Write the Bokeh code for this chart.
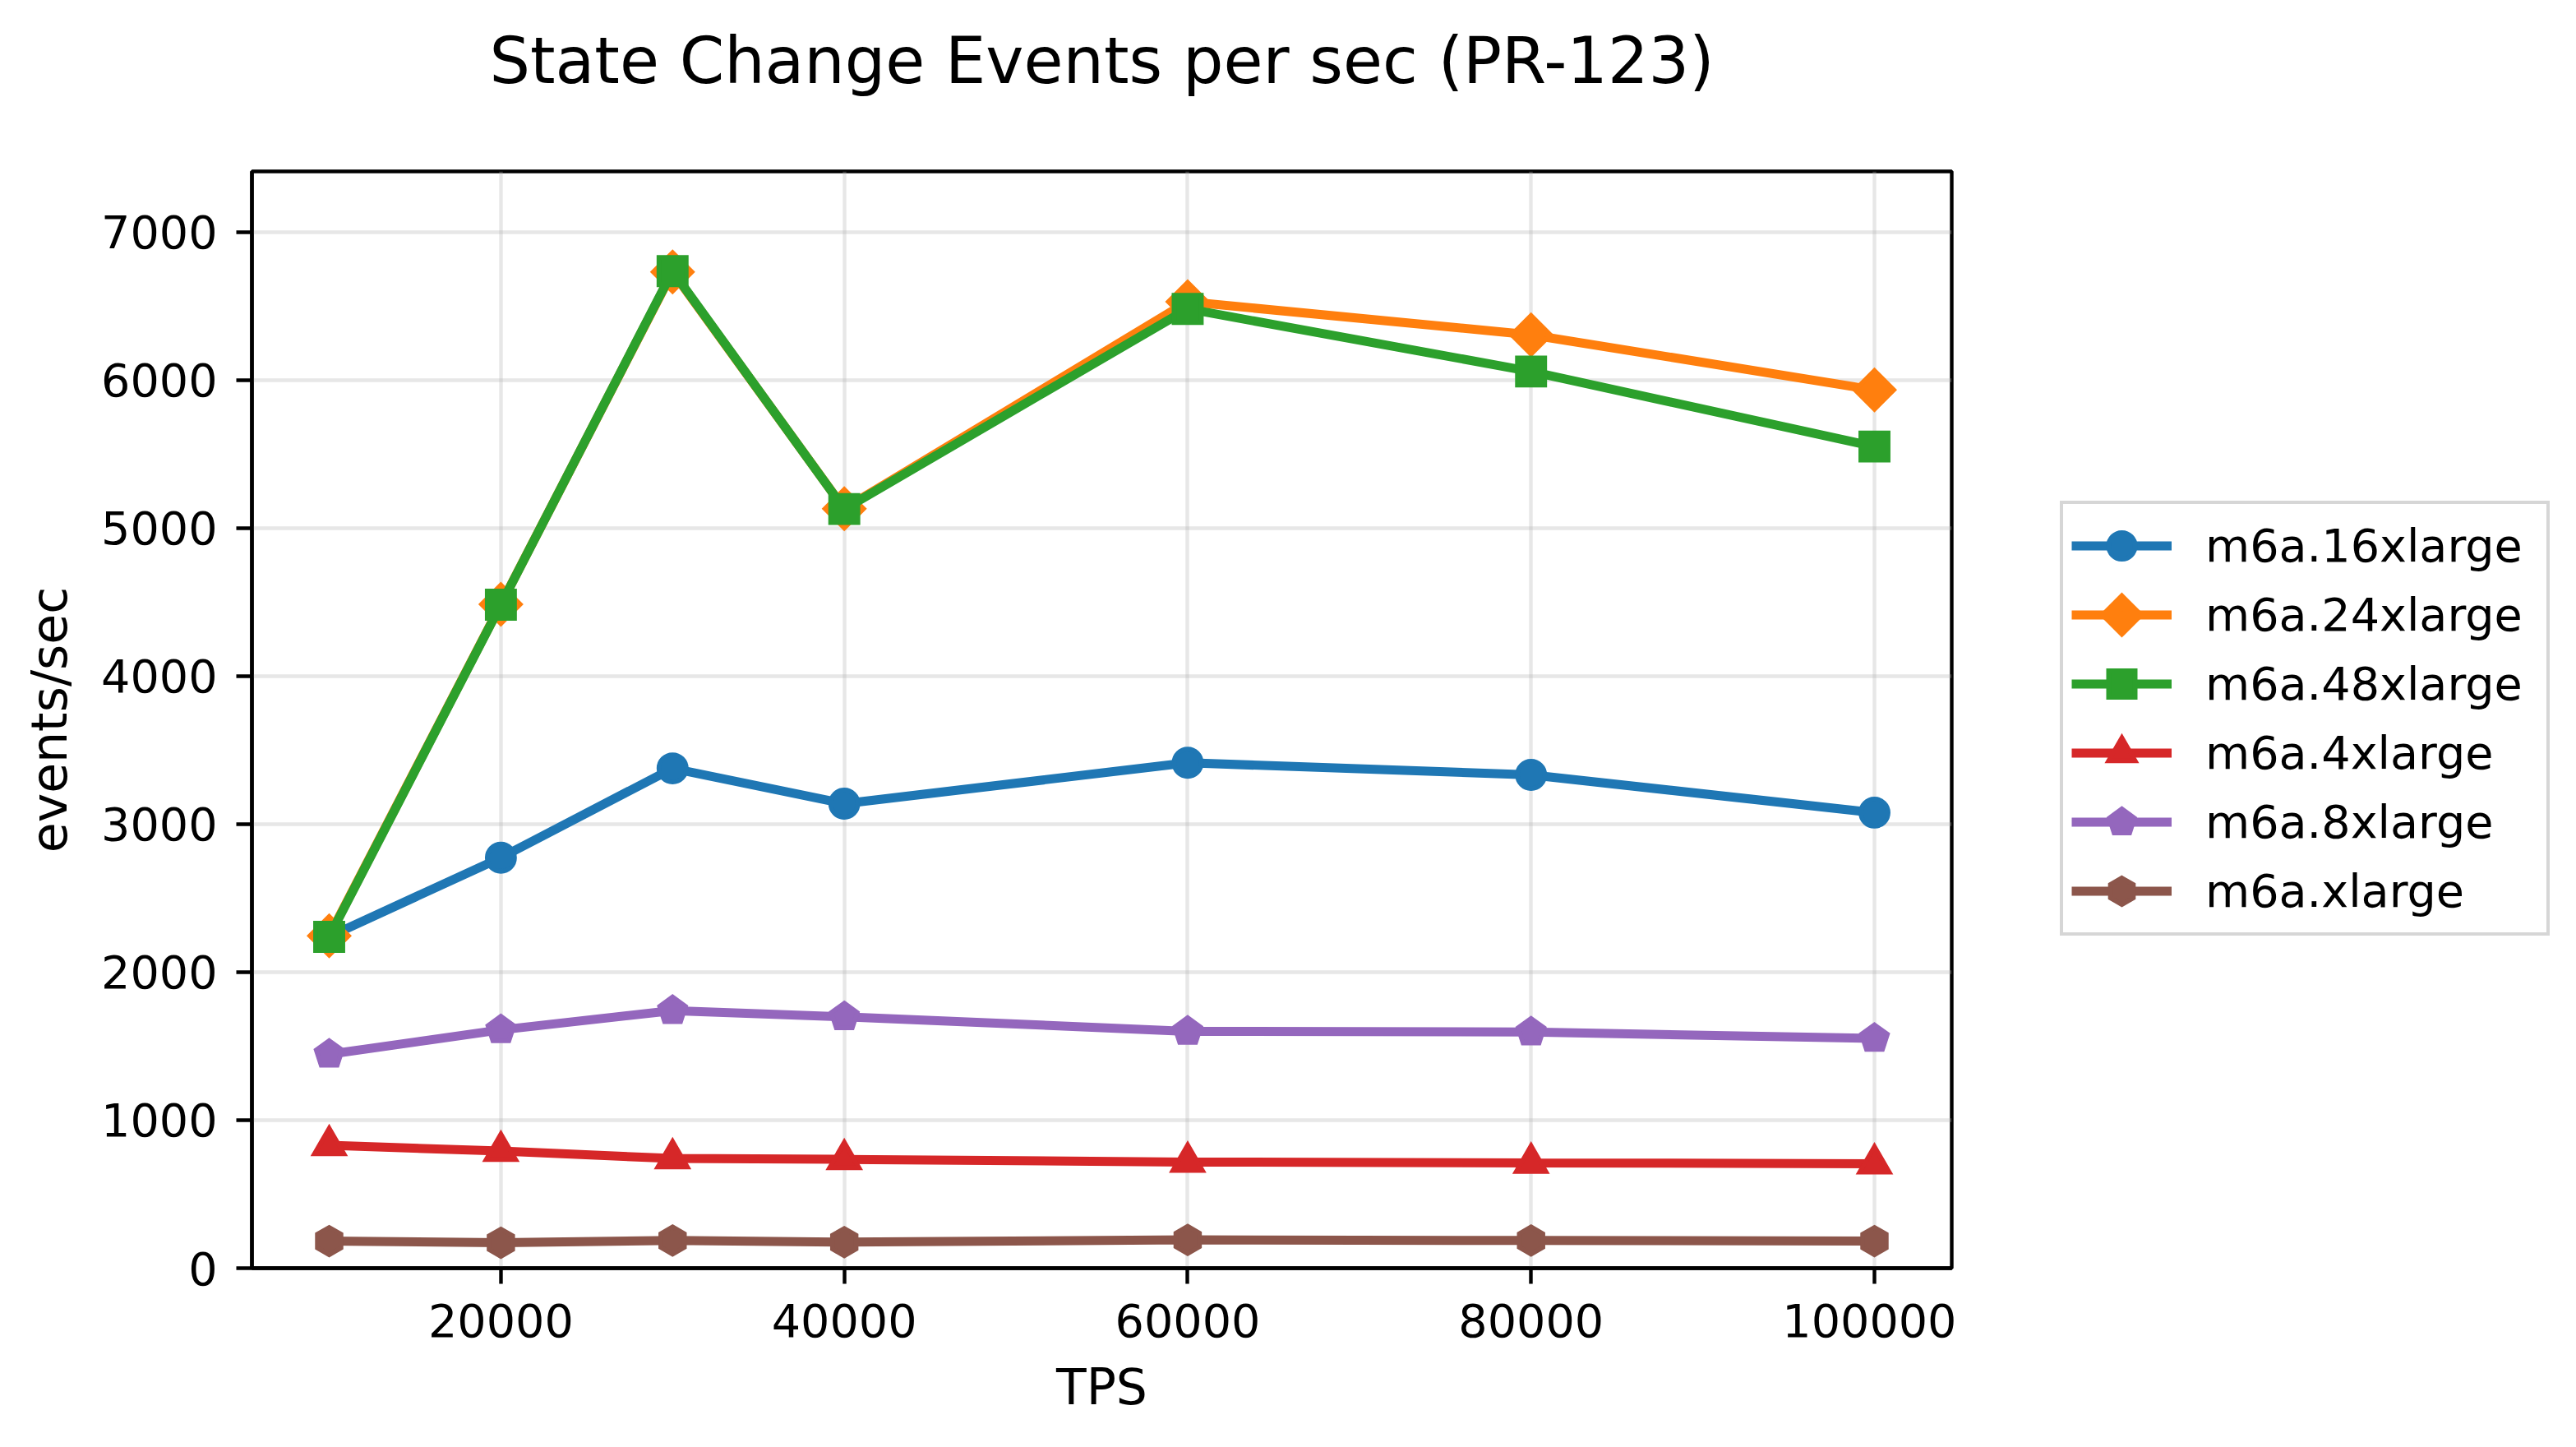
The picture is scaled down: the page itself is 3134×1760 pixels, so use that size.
import numpy as np
from bokeh.plotting import figure
from bokeh.layouts import row
from bokeh.models import (Range1d, FixedTicker, BasicTickFormatter, Legend, LegendItem)
from bokeh.embed import file_html
from bokeh.resources import INLINE

# Throughput levels tested (transactions per second)
tps = [10000, 20000, 30000, 40000, 60000, 80000, 100000]

# State change events per second, by instance type
m6a_16xlarge = [2240, 2773, 3376, 3138, 3414, 3332, 3077]
m6a_24xlarge = [2245, 4485, 6730, 5130, 6528, 6305, 5932]
m6a_48xlarge = [2238, 4482, 6735, 5128, 6480, 6057, 5550]
m6a_4xlarge = [830, 791, 741, 735, 717, 711, 706]
m6a_8xlarge = [1445, 1610, 1740, 1698, 1600, 1595, 1552]
m6a_xlarge = [183, 172, 187, 176, 191, 187, 183]

series_names = ["m6a.16xlarge", "m6a.24xlarge", "m6a.48xlarge",
                "m6a.4xlarge", "m6a.8xlarge", "m6a.xlarge"]
series_values = [m6a_16xlarge, m6a_24xlarge, m6a_48xlarge,
                 m6a_4xlarge, m6a_8xlarge, m6a_xlarge]
colors = ["#1f77b4", "#ff7f0e", "#2ca02c", "#d62728", "#9467bd", "#8c564b"]

x_ticks = [20000, 40000, 60000, 80000, 100000]
y_ticks = [0, 1000, 2000, 3000, 4000, 5000, 6000, 7000]

FONT = "DejaVu Sans"
W, H = 3134, 1760
MAIN_W = 2380          # chart panel; the legend panel takes the rest
LEG_W = W - MAIN_W

y_top = 1.1 * max(max(v) for v in series_values)
x_pad = 0.05 * (max(tps) - min(tps))

p = figure(width=MAIN_W, height=H, output_backend="svg", toolbar_location=None,
           x_range=Range1d(min(tps) - x_pad, max(tps) + x_pad),
           y_range=Range1d(0, y_top),
           min_border_left=306, min_border_right=6,
           min_border_top=208, min_border_bottom=218,
           title="State Change Events per sec (PR-123)")

p.background_fill_color = "white"
p.border_fill_color = "white"
p.outline_line_color = "black"
p.outline_line_width = 4.4
p.outline_line_alpha = 1.0

# Title, lifted well clear of the frame by bottom padding
p.title.text_font = FONT
p.title.text_font_size = "78px"
p.title.text_font_style = "normal"
p.title.text_color = "black"
p.title.align = "center"
p.title.standoff = 10
p.title.padding = dict(left=0, right=0, top=0, bottom=85)

# Axes
p.xaxis.ticker = FixedTicker(ticks=x_ticks)
p.yaxis.ticker = FixedTicker(ticks=y_ticks)
p.xaxis.formatter = BasicTickFormatter(use_scientific=False)
p.yaxis.formatter = BasicTickFormatter(use_scientific=False)
p.xaxis.axis_label = "TPS"
p.yaxis.axis_label = "events/sec"
for ax in (p.xaxis, p.yaxis):
    ax.axis_line_width = 4.4
    ax.axis_line_color = "black"
    ax.major_tick_line_width = 4.4
    ax.major_tick_line_color = "black"
    ax.major_tick_out = 19
    ax.major_tick_in = 0
    ax.minor_tick_out = 0
    ax.minor_tick_in = 0
    ax.major_label_text_font = FONT
    ax.major_label_text_font_size = "55.6px"
    ax.major_label_text_color = "black"
    ax.axis_label_text_font = FONT
    ax.axis_label_text_font_size = "60px"
    ax.axis_label_text_font_style = "normal"
    ax.axis_label_text_color = "black"
p.xaxis.major_label_standoff = 24
p.xaxis.axis_label_standoff = 23
p.yaxis.major_label_standoff = 23
p.yaxis.axis_label_standoff = 25

# Grid
for g in (p.xgrid, p.ygrid):
    g.grid_line_color = "#b0b0b0"
    g.grid_line_alpha = 0.3
    g.grid_line_width = 4.4

LW = 11
EDGE = 5.6
MS = 33.3


def add_series(fig, xs, ys, i, c, diamond_edge=EDGE):
    """Line plus markers for one instance type; returns both renderers."""
    line_r = fig.line(xs, ys, line_color=c, line_width=LW)
    common = dict(fill_color=c, line_color=c, line_width=EDGE, line_join="miter")
    if i == 0:
        mark_r = fig.scatter(xs, ys, marker="circle", size=MS, **common)
    elif i == 1:
        # square standing on a corner
        common["line_width"] = diamond_edge
        mark_r = fig.ngon(xs, ys, radius=MS * np.sqrt(2) / 2, radius_units="screen", n=4, **common)
    elif i == 2:
        mark_r = fig.scatter(xs, ys, marker="square", size=MS, **common)
    elif i == 3:
        mark_r = fig.scatter(xs, ys, marker="triangle", size=36, **common)
    elif i == 4:
        mark_r = fig.ngon(xs, ys, radius=MS / 2, radius_units="screen", n=5, **common)
    else:
        mark_r = fig.ngon(xs, ys, radius=MS / 2, radius_units="screen", n=6, **common)
    return line_r, mark_r


for i, (vals, c) in enumerate(zip(series_values, colors)):
    add_series(p, tps, vals, i, c)

# Legend panel to the right of the chart: style-only proxies (a single NaN point,
# so nothing is drawn in the panel itself) give the legend its glyphs
lg = figure(width=LEG_W, height=H, output_backend="svg", toolbar_location=None,
            x_axis_type=None, y_axis_type=None,
            x_range=Range1d(0, 1), y_range=Range1d(0, 1),
            min_border_left=0, min_border_right=0,
            min_border_top=0, min_border_bottom=0)
lg.outline_line_color = None
lg.background_fill_color = "white"
lg.border_fill_color = "white"
lg.xgrid.visible = False
lg.ygrid.visible = False

nan = [float("nan")]
items = []
for i, (name, c) in enumerate(zip(series_names, colors)):
    # the legend sizes polygon glyphs from its row box, so the diamond gets a heavier edge
    line_r, mark_r = add_series(lg, nan, nan, i, c, diamond_edge=16)
    items.append(LegendItem(label=name, renderers=[line_r, mark_r]))

legend = Legend(items=items, location=(126, 404), margin=0)
legend.label_text_font = FONT
legend.label_text_font_size = "55.6px"
legend.label_text_color = "black"
legend.glyph_width = 122
legend.glyph_height = 81
legend.label_height = 81
legend.label_width = 405
legend.label_standoff = 41
legend.spacing = 3
legend.padding = 10
legend.border_line_color = "#cccccc"
legend.border_line_width = 4
legend.border_line_alpha = 0.8
legend.background_fill_color = "white"
legend.background_fill_alpha = 0.8
lg.add_layout(legend, "center")

layout = row(p, lg, spacing=0)

open("out.html", "w").write(file_html(layout, INLINE))
